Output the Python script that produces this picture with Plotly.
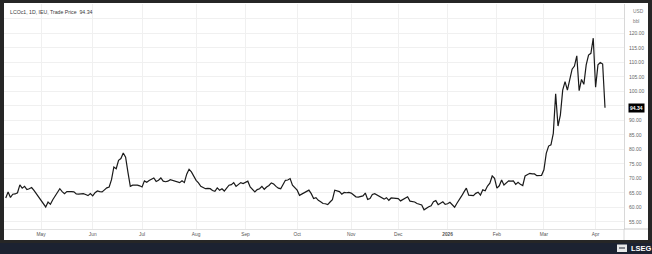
import plotly.graph_objects as go

W, H = 652, 254

trade_dates = [
    "2025-04-09", "2025-04-10", "2025-04-11", "2025-04-14", "2025-04-15", "2025-04-16", "2025-04-17",
    "2025-04-21", "2025-04-22", "2025-04-23", "2025-04-24", "2025-04-25", "2025-04-28", "2025-04-29",
    "2025-04-30", "2025-05-01", "2025-05-02", "2025-05-05", "2025-05-06", "2025-05-07", "2025-05-08",
    "2025-05-09", "2025-05-12", "2025-05-13", "2025-05-14", "2025-05-15", "2025-05-16", "2025-05-19",
    "2025-05-20", "2025-05-21", "2025-05-22", "2025-05-23", "2025-05-26", "2025-05-27", "2025-05-28",
    "2025-05-29", "2025-05-30", "2025-06-02", "2025-06-03", "2025-06-04", "2025-06-05", "2025-06-06",
    "2025-06-09", "2025-06-10", "2025-06-11", "2025-06-12", "2025-06-13", "2025-06-16", "2025-06-17",
    "2025-06-18", "2025-06-19", "2025-06-20", "2025-06-23", "2025-06-24", "2025-06-25", "2025-06-26",
    "2025-06-27", "2025-06-30", "2025-07-01", "2025-07-02", "2025-07-03", "2025-07-04", "2025-07-07",
    "2025-07-08", "2025-07-09", "2025-07-10", "2025-07-11", "2025-07-14", "2025-07-15", "2025-07-16",
    "2025-07-17", "2025-07-18", "2025-07-21", "2025-07-22", "2025-07-23", "2025-07-24", "2025-07-25",
    "2025-07-28", "2025-07-29", "2025-07-30", "2025-07-31", "2025-08-01", "2025-08-04", "2025-08-05",
    "2025-08-06", "2025-08-07", "2025-08-08", "2025-08-11", "2025-08-12", "2025-08-13", "2025-08-14",
    "2025-08-15", "2025-08-18", "2025-08-19", "2025-08-20", "2025-08-21", "2025-08-22", "2025-08-25",
    "2025-08-26", "2025-08-27", "2025-08-28", "2025-08-29", "2025-09-01", "2025-09-02", "2025-09-03",
    "2025-09-04", "2025-09-05", "2025-09-08", "2025-09-09", "2025-09-10", "2025-09-11", "2025-09-12",
    "2025-09-15", "2025-09-16", "2025-09-17", "2025-09-18", "2025-09-19", "2025-09-22", "2025-09-23",
    "2025-09-24", "2025-09-25", "2025-09-26", "2025-09-29", "2025-09-30", "2025-10-01", "2025-10-02",
    "2025-10-03", "2025-10-06", "2025-10-07", "2025-10-08", "2025-10-09", "2025-10-10", "2025-10-13",
    "2025-10-14", "2025-10-15", "2025-10-16", "2025-10-17", "2025-10-20", "2025-10-21", "2025-10-22",
    "2025-10-23", "2025-10-24", "2025-10-27", "2025-10-28", "2025-10-29", "2025-10-30", "2025-10-31",
    "2025-11-03", "2025-11-04", "2025-11-05", "2025-11-06", "2025-11-07", "2025-11-10", "2025-11-11",
    "2025-11-12", "2025-11-13", "2025-11-14", "2025-11-17", "2025-11-18", "2025-11-19", "2025-11-20",
    "2025-11-21", "2025-11-24", "2025-11-25", "2025-11-26", "2025-11-27", "2025-11-28", "2025-12-01",
    "2025-12-02", "2025-12-03", "2025-12-04", "2025-12-05", "2025-12-08", "2025-12-09", "2025-12-10",
    "2025-12-11", "2025-12-12", "2025-12-15", "2025-12-16", "2025-12-17", "2025-12-18", "2025-12-19",
    "2025-12-22", "2025-12-23", "2025-12-24", "2025-12-29", "2025-12-30", "2025-12-31", "2026-01-02",
    "2026-01-05", "2026-01-06", "2026-01-07", "2026-01-08", "2026-01-09", "2026-01-12", "2026-01-13",
    "2026-01-14", "2026-01-15", "2026-01-16", "2026-01-19", "2026-01-20", "2026-01-21", "2026-01-22",
    "2026-01-23", "2026-01-26", "2026-01-27", "2026-01-28", "2026-01-29", "2026-01-30", "2026-02-02",
    "2026-02-03", "2026-02-04", "2026-02-05", "2026-02-06", "2026-02-09", "2026-02-10", "2026-02-11",
    "2026-02-12", "2026-02-13", "2026-02-16", "2026-02-17", "2026-02-18", "2026-02-19", "2026-02-20",
    "2026-02-23", "2026-02-24", "2026-02-25", "2026-02-26", "2026-02-27", "2026-03-02", "2026-03-03",
    "2026-03-04", "2026-03-05", "2026-03-06", "2026-03-09", "2026-03-10", "2026-03-11", "2026-03-12",
    "2026-03-13", "2026-03-16", "2026-03-17", "2026-03-18", "2026-03-19", "2026-03-20", "2026-03-23",
    "2026-03-24", "2026-03-25", "2026-03-26", "2026-03-27", "2026-03-30", "2026-03-31", "2026-04-01",
    "2026-04-02", "2026-04-03", "2026-04-06", "2026-04-07",
]

trade_prices = [
    63.2, 65.3, 63.4, 64.5, 64.6, 65.0, 67.7,
    66.6, 67.2, 66.1, 66.4, 66.8, 65.8, 64.7,
    63.4, 62.4, 61.3, 60.1, 61.8, 61.0, 62.6,
    63.8, 65.2, 66.4, 65.4, 64.7, 65.4, 65.5,
    65.4, 65.3, 64.6, 64.5, 64.6, 64.7, 64.4,
    64.0, 64.7, 63.9, 65.0, 65.6, 65.4, 65.3,
    66.0, 66.7, 67.0, 69.5, 73.9, 73.3, 76.2,
    76.8, 78.7, 77.3, 72.0, 67.2, 67.6, 67.7,
    67.6, 67.4, 67.0, 69.1, 68.6, 69.2, 69.7,
    70.1, 68.9, 69.3, 70.1, 69.0, 68.8, 69.0,
    69.5, 69.3, 69.1, 68.8, 68.5, 69.1, 68.5,
    71.4, 73.1, 72.2, 70.6, 69.3, 68.4, 67.2,
    66.8, 66.4, 66.5, 66.4, 65.8, 65.5, 66.7,
    65.9, 66.4, 65.6, 66.6, 67.6, 67.8, 68.5,
    67.2, 67.8, 68.5, 68.2, 68.5, 69.0, 67.0,
    66.0, 65.3, 66.1, 66.4, 67.2, 66.2, 67.0,
    67.5, 68.4, 68.0, 67.2, 66.6, 66.4, 67.8,
    69.3, 69.4, 69.9, 67.6, 66.6, 65.9, 64.1,
    64.5, 64.9, 65.4, 65.9, 64.7, 63.0, 63.3,
    62.4, 61.9, 61.3, 61.2, 60.9, 61.8, 62.6,
    65.9, 65.6, 65.4, 64.5, 65.1, 65.0, 65.1,
    64.9, 64.3, 63.6, 63.5, 63.6, 63.9, 64.9,
    62.7, 63.0, 64.4, 64.7, 64.2, 63.6, 63.3,
    62.8, 63.3, 62.4, 63.2, 63.2, 63.1, 63.0,
    62.2, 62.7, 63.2, 63.6, 62.1, 62.0, 61.8,
    61.3, 61.0, 60.8, 59.1, 59.7, 60.2, 60.5,
    61.9, 62.3, 60.9, 61.4, 61.9, 61.0, 61.2,
    61.7, 60.8, 60.0, 61.4, 62.5, 63.9, 65.3,
    66.6, 64.2, 64.1, 64.0, 64.8, 65.2, 64.2,
    66.0, 65.7, 67.3, 68.3, 70.8, 70.0, 66.6,
    67.4, 69.4, 67.7, 68.4, 69.1, 69.0, 69.1,
    67.9, 68.6, 67.9, 67.5, 70.8, 71.4, 71.7,
    71.5, 71.5, 70.9, 70.9, 71.0, 72.9, 78.6,
    81.1, 81.5, 85.5, 99.1, 88.0, 91.8, 100.4,
    103.3, 100.4, 104.5, 107.6, 108.7, 112.2, 100.2,
    104.1, 102.4, 109.1, 112.5, 113.1, 118.3, 101.4,
    109.1, 109.9, 109.4, 94.34,
]

month_ticks = ["2025-05-01", "2025-06-02", "2025-07-01", "2025-08-01", "2025-09-01", "2025-10-01",
               "2025-11-03", "2025-12-01", "2026-01-02", "2026-02-02", "2026-03-02", "2026-04-01"]
month_labels = ["May", "Jun", "Jul", "Aug", "Sep", "Oct", "Nov", "Dec", "<b>2026</b>", "Feb", "Mar", "Apr"]

price_ticks = [55, 60, 65, 70, 75, 80, 85, 90, 95, 100, 105, 110, 115, 120, 125, 130]
price_labels = ["55.00", "60.00", "65.00", "70.00", "75.00", "80.00", "85.00", "90.00", "",
                "100.00", "105.00", "110.00", "115.00", "120.00", "", ""]

holidays = ["2025-04-18", "2025-12-25", "2025-12-26", "2026-01-01"]
title_text = "LCOc1, 1D, IEU, Trade Price  94.34"
last_price = 94.34

FONT = "Liberation Sans"


def px(x):
    return x / W


def py(y):
    return 1 - y / H


fig = go.Figure()
fig.add_trace(go.Scatter(
    x=trade_dates, y=trade_prices, mode="lines",
    line=dict(color="#1a1a1a", width=1.2), hoverinfo="skip", showlegend=False,
))

shapes = [
    dict(type="rect", xref="paper", yref="paper", x0=px(4), x1=px(648), y0=py(240), y1=py(3),
         fillcolor="#ffffff", line=dict(width=0), layer="below"),
    dict(type="rect", xref="paper", yref="paper", x0=0, x1=1, y0=0, y1=py(243),
         fillcolor="#1c2231", line=dict(width=0), layer="below"),
    dict(type="line", xref="paper", yref="paper", x0=px(624), x1=px(648), y0=py(229), y1=py(229),
         line=dict(color="#c8c8c8", width=1)),
    dict(type="line", xref="paper", yref="paper", x0=px(624), x1=px(624), y0=py(240), y1=py(229),
         line=dict(color="#d8d8d8", width=1)),
    dict(type="rect", xref="paper", yref="paper", x0=px(617), x1=px(627), y0=py(252), y1=py(244.5),
         fillcolor="#e8e8e8", line=dict(width=0)),
    dict(type="line", xref="paper", yref="paper", x0=px(619), x1=px(625), y0=py(248), y1=py(248),
         line=dict(color="#1c2231", width=1)),
]

annotations = [
    dict(xref="paper", yref="paper", x=px(8), y=py(12), xanchor="left", yanchor="middle",
         text=title_text, showarrow=False, font=dict(family=FONT, size=5.2, color="#3a3a3a")),
    dict(xref="paper", yref="paper", x=px(631), y=py(11), xanchor="left", yanchor="middle",
         text="USD", showarrow=False, font=dict(family=FONT, size=4.8, color="#777777")),
    dict(xref="paper", yref="paper", x=px(631), y=py(22), xanchor="left", yanchor="middle",
         text="bbl", showarrow=False, font=dict(family=FONT, size=4.8, color="#777777")),
    dict(xref="paper", yref="y", x=px(636), y=last_price, xanchor="center", yanchor="middle",
         text="<b>%.2f</b>" % last_price, showarrow=False, bgcolor="#000000", borderpad=1,
         font=dict(family=FONT, size=5, color="#ffffff")),
    dict(xref="paper", yref="paper", x=px(641), y=py(248.3), xanchor="center", yanchor="middle",
         text="<b>LSEG</b>", showarrow=False, font=dict(family=FONT, size=7.5, color="#ffffff")),
]

fig.update_layout(
    width=W, height=H,
    margin=dict(l=0, r=0, t=0, b=0, pad=0),
    paper_bgcolor="#262626",
    plot_bgcolor="#ffffff",
    font=dict(family=FONT, size=5, color="#666666"),
    shapes=shapes,
    annotations=annotations,
    xaxis=dict(
        domain=[px(4), px(624)],
        type="date",
        range=["2025-04-08 06:00", "2026-04-17 02:00"],
        rangebreaks=[dict(bounds=["sat", "mon"]), dict(values=holidays)],
        tickmode="array", tickvals=month_ticks, ticktext=month_labels,
        showgrid=True, gridcolor="#f0f0f0", gridwidth=1,
        showline=True, linecolor="#e2e2e2", linewidth=1,
        ticks="", ticklabelstandoff=0,
        tickfont=dict(family=FONT, size=4.8, color="#555555"),
        zeroline=False, fixedrange=True,
    ),
    yaxis=dict(
        domain=[py(229), py(4)],
        side="right",
        range=[52.5, 130.1],
        tickmode="array", tickvals=price_ticks, ticktext=price_labels,
        showgrid=True, gridcolor="#f0f0f0", gridwidth=1,
        showline=True, linecolor="#d8d8d8", linewidth=1,
        ticks="", ticklabelstandoff=3,
        tickfont=dict(family=FONT, size=5, color="#666666"),
        zeroline=False, fixedrange=True,
    ),
)

fig.write_html("out.html")
